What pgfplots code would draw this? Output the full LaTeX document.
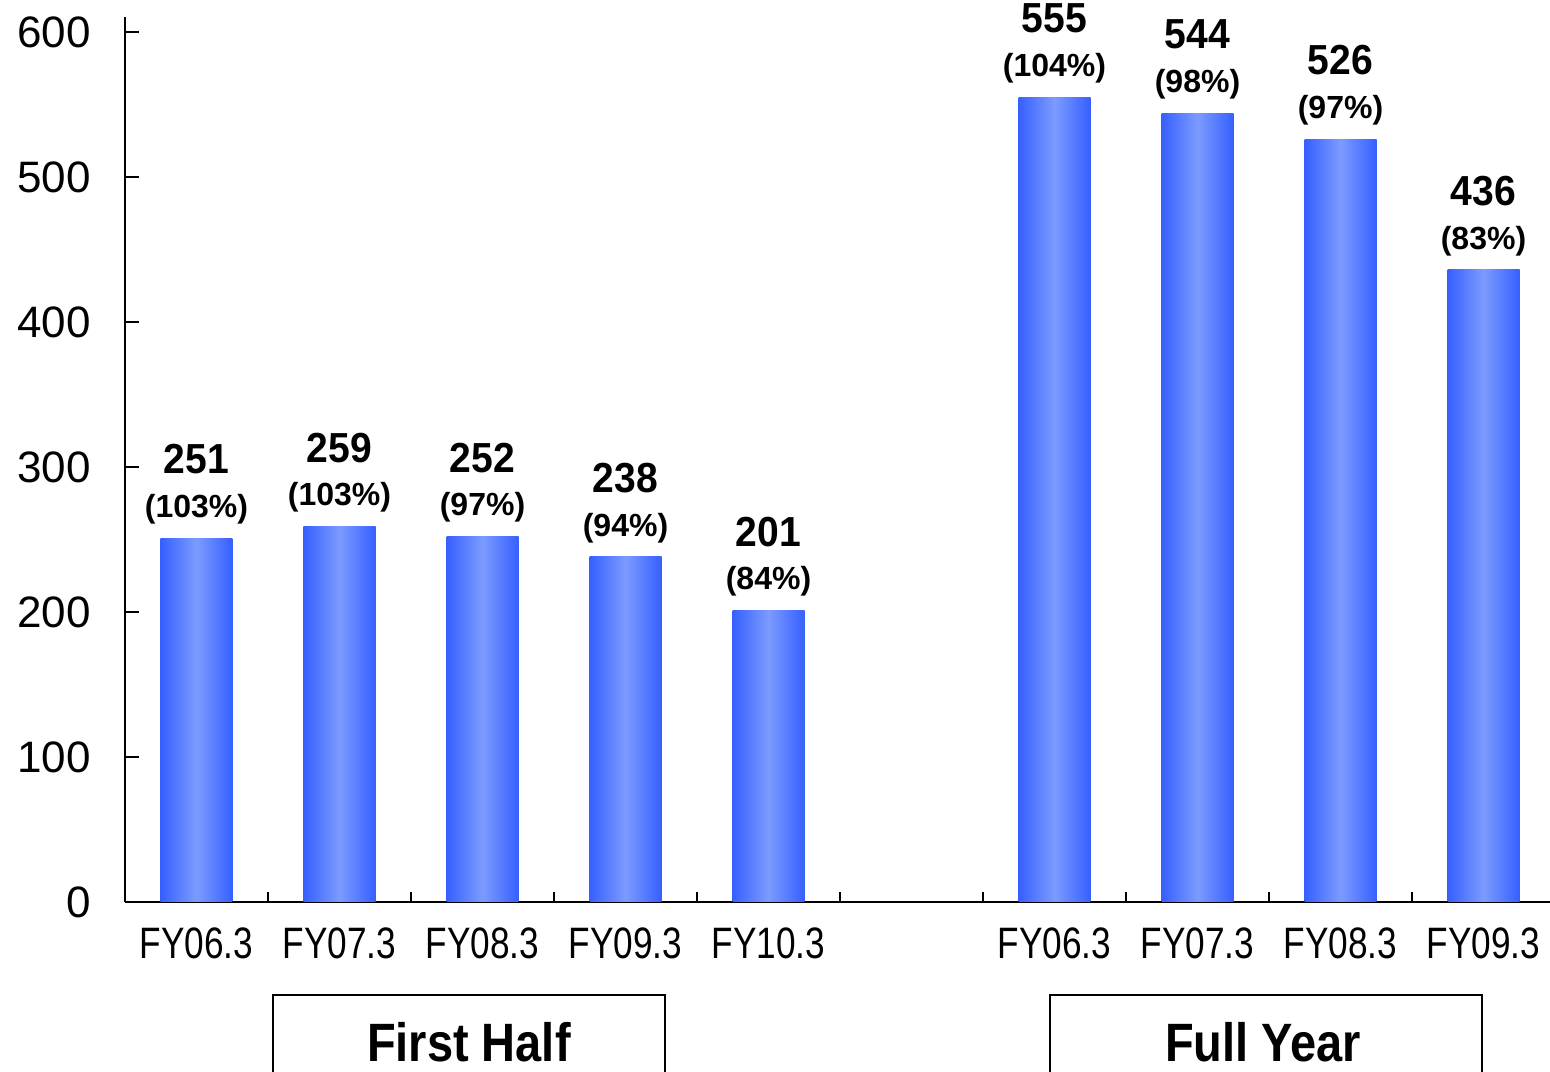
\documentclass[border=0pt]{standalone}
\usepackage{fontspec}
\setmainfont{Liberation Sans}
\newfontfamily\xlabfont[FakeStretch=0.8]{Liberation Sans}
\newfontfamily\boxfont[FakeStretch=0.87]{Liberation Sans}
\newfontfamily\valfont[FakeStretch=0.93]{Liberation Sans}
\usepackage{pgfplots}
\pgfplotsset{compat=1.18}
\definecolor{barDark}{RGB}{54,96,255}
\definecolor{barLight}{RGB}{124,155,255}

\pgfplotsset{
  gradbar/.style={ybar, bar width=36pt, draw=none,
    left color=barDark, right color=barDark, middle color=barLight,
    point meta=explicit symbolic,
    visualization depends on={y \as \yval},
    nodes near coords={\begin{tabular}{@{}c@{}}\valfont\fontsize{21}{21}\selectfont\bfseries\pgfmathprintnumber[fixed,precision=0]{\yval}\\[6.7pt]\fontsize{16}{16}\selectfont\bfseries(\pgfplotspointmeta\%)\end{tabular}},
    nodes near coords style={inner sep=0pt, anchor=south, yshift=6.5pt, text=black},
  },
}

\begin{document}
\begin{tikzpicture}
\begin{axis}[
  name=ax,
  scale only axis,
  width=715pt, height=442.25pt,
  xmin=-0.5, xmax=9.5, ymin=0, ymax=610,
  axis x line*=bottom, axis y line*=left,
  axis line style={-, line width=1.2pt, black},
  xtick={0,...,9},
  xticklabels={FY06.3,FY07.3,FY08.3,FY09.3,FY10.3,,FY06.3,FY07.3,FY08.3,FY09.3},
  minor xtick={0.5,1.5,...,8.5},
  ytick={0,100,...,600},
  tick align=inside,
  major x tick style={draw=none},
  minor x tick style={line width=1.2pt, black},
  minor tick length=5pt,
  major tick length=7pt,
  y tick style={line width=1.2pt, black},
  /pgf/number format/assume math mode=true,
  yticklabel style={font=\fontsize{22}{24}\selectfont},
  xticklabel style={font=\xlabfont\fontsize{22}{24}\selectfont},
  yticklabel shift=13.5pt,
  xticklabel shift=9.5pt,
  clip=false,
]
% First Half
\addplot[gradbar] coordinates {(0,251) [103]};
\addplot[gradbar] coordinates {(1,259) [103]};
\addplot[gradbar] coordinates {(2,252) [97]};
\addplot[gradbar] coordinates {(3,238) [94]};
\addplot[gradbar] coordinates {(4,201) [84]};
% Full Year
\addplot[gradbar] coordinates {(6,555) [104]};
\addplot[gradbar] coordinates {(7,544) [98]};
\addplot[gradbar] coordinates {(8,526) [97]};
\addplot[gradbar] coordinates {(9,436) [83]};

\draw[line width=0.6pt] (axis cs:0.535,-64.1) rectangle (axis cs:3.276,-140);
\node[font=\boxfont\fontsize{27}{30}\selectfont\bfseries] at (axis cs:1.905,-96.9) {First Half};
\draw[line width=0.6pt] (axis cs:5.969,-64.1) rectangle (axis cs:8.99,-140);
\node[font=\boxfont\fontsize{27}{30}\selectfont\bfseries] at (axis cs:7.458,-96.9) {Full Year};
\end{axis}
\pgfresetboundingbox
\path[use as bounding box] ([xshift=-62.5pt,yshift=-85pt]ax.south west) rectangle ([xshift=-2.5pt,yshift=8.75pt]ax.north east);
\end{tikzpicture}
\end{document}
